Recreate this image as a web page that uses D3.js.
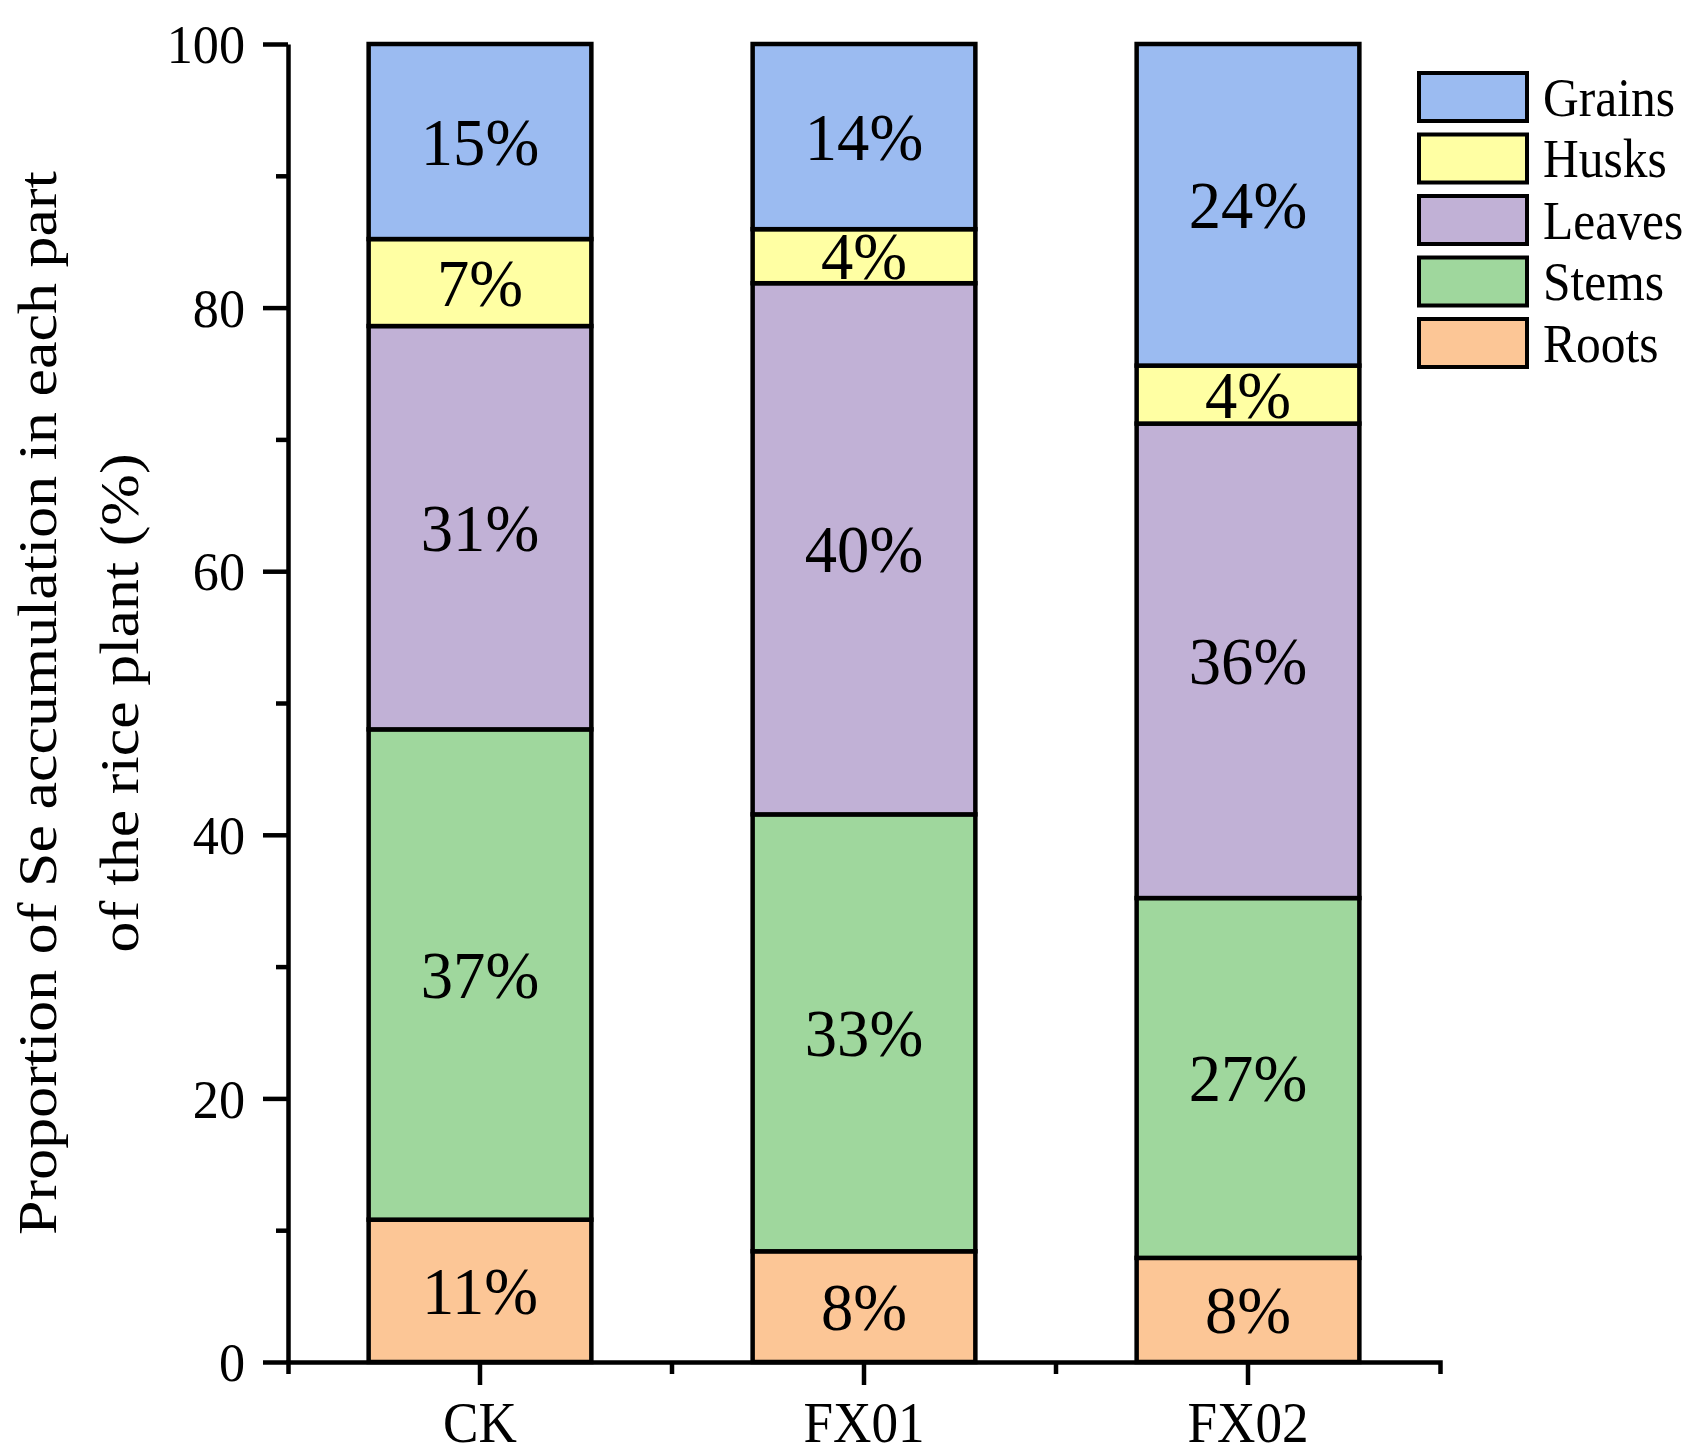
<!DOCTYPE html>
<html>
<head>
<meta charset="utf-8">
<script src="https://cdn.jsdelivr.net/npm/d3@7"></script>
<style>
  body { margin: 0; background: #fff; }
  svg text { font-family: "Liberation Serif", "Times New Roman", serif; fill: #000; }
</style>
</head>
<body>
<div id="chart"></div>
<script>
'use strict';
// categories and stacked parts (bottom to top)
var groups = ["CK", "FX01", "FX02"];
var parts = ["Roots", "Stems", "Leaves", "Husks", "Grains"];
var legendOrder = ["Grains", "Husks", "Leaves", "Stems", "Roots"];

// percentage of each part per group
var roots  = [10.8, 8.4, 7.9];
var stems  = [37.2, 33.15, 27.3];
var leaves = [30.6, 40.3, 36.0];
var husks  = [6.6, 4.1, 4.4];
var grains = [14.8, 14.05, 24.4];

var majorTicks = [0, 20, 40, 60, 80, 100];
var minorTicks = [10, 30, 50, 70, 90];

var colors = {
    Grains: "#9bbbf1",
    Husks:  "#ffffa3",
    Leaves: "#c1b1d6",
    Stems:  "#9fd79d",
    Roots:  "#fcc696"
};

var W = 1689, H = 1456;
var margin = {top: 44, left: 288, right: 1689 - 1440, bottom: 1456 - 1362};
var width = W - margin.left - margin.right,
    height = H - margin.top - margin.bottom;
var sx = 0.95; // glyphs in the figure are a bit narrow
var lw = 4.5;

var table = groups.map(function(g, i) {
    return {group: g, Roots: roots[i], Stems: stems[i], Leaves: leaves[i], Husks: husks[i], Grains: grains[i]};
});
var series = d3.stack().keys(parts)(table);

var x = d3.scaleBand().domain(groups).range([0, width]).paddingInner(0.42).paddingOuter(0.21);
var y = d3.scaleLinear().domain([0, 100]).range([height, 0]);

var svg = d3.select("#chart").append("svg")
    .attr("width", W)
    .attr("height", H);
var g = svg.append("g")
    .attr("transform", "translate(" + margin.left + "," + margin.top + ")");

// bars
var layer = g.selectAll(".layer")
    .data(series)
    .enter().append("g")
    .attr("class", "layer")
    .attr("fill", function(d) { return colors[d.key]; });

layer.selectAll("rect")
    .data(function(d) { return d; })
    .enter().append("rect")
    .attr("x", function(d) { return x(d.data.group); })
    .attr("y", function(d) { return y(d[1]); })
    .attr("width", x.bandwidth())
    .attr("height", function(d) { return y(d[0]) - y(d[1]); })
    .attr("stroke", "#000")
    .attr("stroke-width", lw);

// percentage labels
layer.selectAll("text")
    .data(function(d) { return d; })
    .enter().append("text")
    .attr("transform", function(d) {
        var cx = x(d.data.group) + x.bandwidth() / 2;
        var cy = y((d[0] + d[1]) / 2);
        return "translate(" + cx + "," + cy + ") scale(" + sx + ",1)";
    })
    .attr("text-anchor", "middle")
    .attr("dy", "0.34em")
    .style("font-size", "68px")
    .text(function(d) { return Math.round(d[1] - d[0]) + "%"; });

// y axis
var yAxis = g.append("g")
    .call(d3.axisLeft(y).tickValues(majorTicks).tickSize(25).tickSizeOuter(0));
yAxis.selectAll("text")
    .attr("x", -43 / sx)
    .attr("dy", "0.34em")
    .attr("transform", "scale(" + sx + ",1)")
    .style("font-size", "55px");
g.append("g")
    .call(d3.axisLeft(y).tickValues(minorTicks).tickSize(12).tickFormat(""))
    .select(".domain").remove();

// x axis
var xAxis = g.append("g")
    .attr("transform", "translate(0," + height + ")")
    .call(d3.axisBottom(x).tickSize(23).tickSizeOuter(12));
xAxis.selectAll("text")
    .attr("y", 80)
    .attr("dy", 0)
    .attr("transform", "scale(" + sx + ",1)")
    .attr("x", 0)
    .style("font-size", "56px");
// minor ticks between the groups
var bounds = groups.slice(1).map(function(d) { return x(d) + x.bandwidth() / 2 - x.step() / 2; });
xAxis.selectAll(".minor")
    .data(bounds)
    .enter().append("line")
    .attr("class", "minor")
    .attr("x1", function(d) { return d; })
    .attr("x2", function(d) { return d; })
    .attr("y1", 0)
    .attr("y2", 12)
    .attr("stroke", "#000");

g.selectAll(".domain, .tick line, .minor")
    .attr("stroke", "#000")
    .attr("stroke-width", lw);

// y axis title, two lines
var title = ["Proportion of Se accumulation in each part", "of the rice plant (%)"];
svg.selectAll(".ytitle")
    .data(title)
    .enter().append("text")
    .attr("class", "ytitle")
    .attr("transform", function(d, i) {
        return "translate(" + (56 + i * 82) + "," + (margin.top + height / 2) + ") scale(0.9,1) rotate(-90)";
    })
    .attr("text-anchor", "middle")
    .style("font-size", "62px")
    .text(function(d) { return d; });

// legend
var legend = svg.append("g").attr("transform", "translate(1419,73)");
var item = legend.selectAll(".item")
    .data(legendOrder)
    .enter().append("g")
    .attr("class", "item")
    .attr("transform", function(d, i) { return "translate(0," + (i * 61.5) + ")"; });
item.append("rect")
    .attr("width", 108)
    .attr("height", 48)
    .attr("fill", function(d) { return colors[d]; })
    .attr("stroke", "#000")
    .attr("stroke-width", 4);
item.append("text")
    .attr("transform", "translate(124,24) scale(0.9,1)")
    .attr("dy", "0.34em")
    .style("font-size", "55px")
    .text(function(d) { return d; });
</script>
</body>
</html>
